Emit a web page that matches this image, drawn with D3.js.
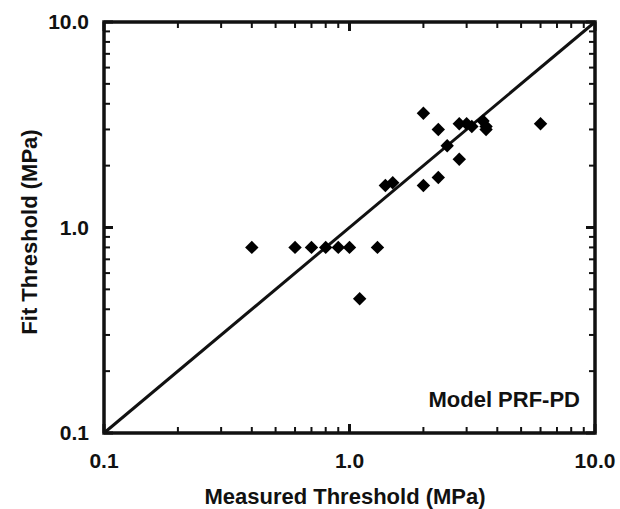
<!DOCTYPE html>
<html lang="en">

<head>
    <meta charset="UTF-8">
    <title>Fit vs measured threshold</title>
    <style>
        body { margin: 0; background: #fff; }
        text { font-family: "Liberation Sans", Arial, sans-serif; font-weight: bold; fill: #111; }
    </style>
</head>

<body>
    <script src='https://d3js.org/d3.v7.min.js'></script>
    <script>
        // measured vs fit threshold (MPa)
        const measured = [0.4, 0.6, 0.7, 0.8, 0.9, 1.0, 1.3, 1.1, 1.4, 1.5, 2.0, 2.3, 2.5, 2.8, 2.0, 2.3, 2.8, 3.0, 3.15, 3.5, 3.6, 3.6, 6.0];
        const fitted = [0.8, 0.8, 0.8, 0.8, 0.8, 0.8, 0.8, 0.45, 1.6, 1.65, 1.6, 1.75, 2.5, 2.15, 3.6, 3.0, 3.2, 3.2, 3.1, 3.3, 3.1, 3.0, 3.2];
        const tickValues = [0.1, 1, 10];
        const tickLabels = ["0.1", "1.0", "10.0"];
        const modelLabel = "Model PRF-PD";

        const width = 620, height = 509;
        const pLeft = 104, pRight = 595, pTop = 22, pBottom = 433;

        var x = d3.scaleLog().domain([0.1, 10]).range([pLeft, pRight]);
        var y = d3.scaleLog().domain([0.1, 10]).range([pBottom, pTop]);

        var svg = d3.select("body")
            .append("svg")
            .attr("width", width)
            .attr("height", height);

        // minor ticks: 2..9 per decade, major at decades
        var allTicks = [];
        [0.1, 1].forEach(function(d) {
            for (var k = 1; k < 10; k++) allTicks.push(d * k);
        });
        allTicks.push(10);
        function isMajor(v) {
            return tickValues.some(function(t) { return Math.abs(t - v) < 1e-9; });
        }

        // tick marks drawn inward on all 4 sides
        var tg = svg.append("g").attr("stroke", "#111");
        allTicks.forEach(function(v) {
            var L = isMajor(v) ? 9 : 6, w = isMajor(v) ? 3 : 2;
            tg.append("line").attr("x1", x(v)).attr("x2", x(v)).attr("y1", pBottom).attr("y2", pBottom - L).attr("stroke-width", w);
            tg.append("line").attr("x1", x(v)).attr("x2", x(v)).attr("y1", pTop).attr("y2", pTop + L).attr("stroke-width", w);
            tg.append("line").attr("y1", y(v)).attr("y2", y(v)).attr("x1", pLeft).attr("x2", pLeft + L).attr("stroke-width", w);
            tg.append("line").attr("y1", y(v)).attr("y2", y(v)).attr("x1", pRight).attr("x2", pRight - L).attr("stroke-width", w);
        });

        // y = x reference line
        svg.append("line")
            .attr("x1", x(0.1)).attr("y1", y(0.1))
            .attr("x2", x(10)).attr("y2", y(10))
            .attr("stroke", "#111").attr("stroke-width", 3);

        // frame
        svg.append("rect")
            .attr("x", pLeft).attr("y", pTop)
            .attr("width", pRight - pLeft).attr("height", pBottom - pTop)
            .attr("fill", "none").attr("stroke", "#111").attr("stroke-width", 3.5);

        // diamonds
        var sym = d3.symbol().type(d3.symbolSquare).size(90);
        svg.append("g").selectAll("path")
            .data(measured)
            .enter()
            .append("path")
            .attr("d", sym)
            .attr("fill", "#000")
            .attr("transform", function(d, i) {
                return "translate(" + x(d) + "," + y(fitted[i]) + ") rotate(45)";
            });

        // tick labels
        svg.append("g").selectAll("text")
            .data(tickValues)
            .enter()
            .append("text")
            .attr("x", function(d) { return x(d); })
            .attr("y", pBottom + 35)
            .attr("text-anchor", "middle")
            .style("font-size", "21px")
            .text(function(d, i) { return tickLabels[i]; });
        svg.append("g").selectAll("text")
            .data(tickValues)
            .enter()
            .append("text")
            .attr("x", pLeft - 15)
            .attr("y", function(d) { return y(d); })
            .attr("dy", "0.35em")
            .attr("text-anchor", "end")
            .style("font-size", "21px")
            .text(function(d, i) { return tickLabels[i]; });

        // axis titles
        svg.append("text")
            .attr("x", 345)
            .attr("y", 504)
            .attr("text-anchor", "middle")
            .style("font-size", "22px")
            .text("Measured Threshold (MPa)");
        svg.append("text")
            .attr("transform", "translate(37,232) rotate(-90)")
            .attr("text-anchor", "middle")
            .style("font-size", "22px")
            .text("Fit Threshold (MPa)");

        svg.append("text")
            .attr("x", pRight - 15)
            .attr("y", 407)
            .attr("text-anchor", "end")
            .style("font-size", "22px")
            .text(modelLabel);
    </script>
</body>

</html>
